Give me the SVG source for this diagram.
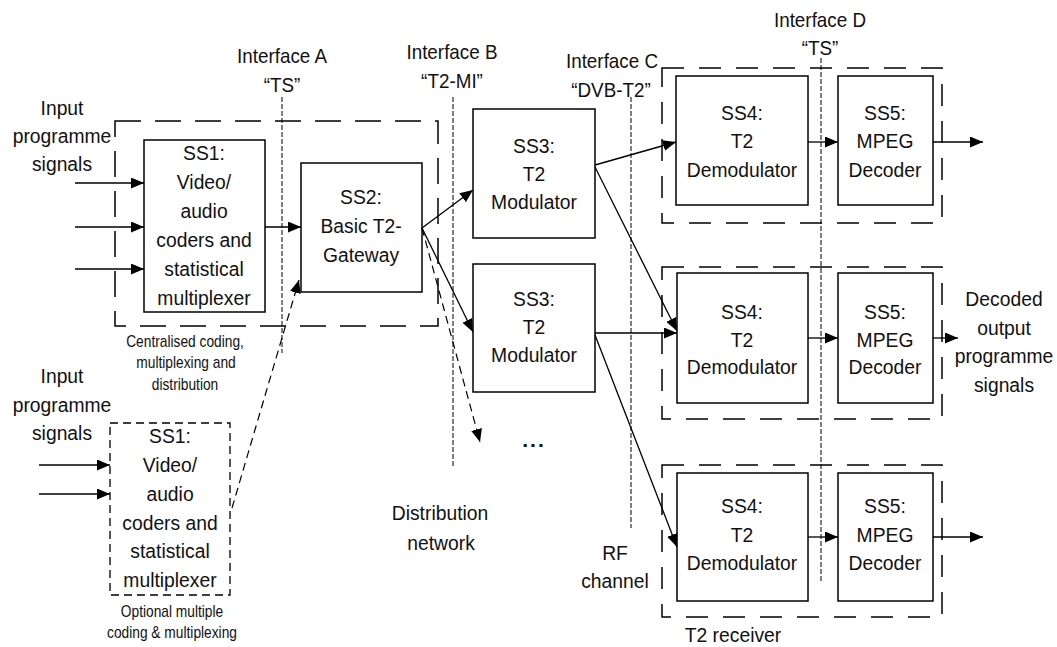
<svg xmlns="http://www.w3.org/2000/svg" width="1057" height="647" viewBox="0 0 1057 647">
<defs>
<marker id="ah" markerWidth="13" markerHeight="11" refX="13" refY="5.5" orient="auto" markerUnits="userSpaceOnUse"><path d="M0,0 L13,5.5 L0,11 z" fill="#000"/></marker>
<style>
text{font-family:"Liberation Sans",Arial,sans-serif;fill:#111;text-anchor:middle}
.t{font-size:21px}
.i{font-size:20.5px}
.s{font-size:16px}
.box{fill:#fff;stroke:#000;stroke-width:1.5}
.obox{fill:none;stroke:#000;stroke-width:1.3;stroke-dasharray:8 5}
.grp{fill:none;stroke:#000;stroke-width:1.5;stroke-dasharray:26 14}
.rgrp{fill:none;stroke:#000;stroke-width:1.5;stroke-dasharray:22 15}
.ifc{stroke:#000;stroke-width:1;stroke-dasharray:5 2;fill:none}
.c{stroke:#000;stroke-width:1.3;fill:none;marker-end:url(#ah)}
.cd{stroke:#000;stroke-width:1.2;fill:none;stroke-dasharray:8 5;marker-end:url(#ah)}
</style>
</defs>
<rect width="1057" height="647" fill="#fff"/>

<g id="groups">
<rect class="grp" x="115" y="121" width="323" height="205"/>
<rect class="rgrp" x="662" y="68" width="280" height="155"/>
<rect class="rgrp" x="662" y="267" width="280" height="152"/>
<rect class="rgrp" x="662" y="465" width="280" height="152"/>
</g>

<g id="interfaces">
<line class="ifc" x1="282" y1="97" x2="282" y2="353"/>
<line class="ifc" x1="453" y1="97" x2="453" y2="467"/>
<line class="ifc" x1="631" y1="97" x2="631" y2="528"/>
<line class="ifc" x1="821" y1="58" x2="821" y2="583"/>
<text class="i" transform="translate(282 0) scale(.92 1)" y="63">Interface A</text>
<text class="i" transform="translate(282 0) scale(.92 1)" y="92">“TS”</text>
<text class="i" transform="translate(452 0) scale(.92 1)" y="59">Interface B</text>
<text class="i" transform="translate(452 0) scale(.92 1)" y="88">“T2-MI”</text>
<text class="i" transform="translate(612 0) scale(.92 1)" y="68">Interface C</text>
<text class="i" transform="translate(611 0) scale(.92 1)" y="97">“DVB-T2”</text>
<text class="i" transform="translate(820 0) scale(.92 1)" y="27">Interface D</text>
<text class="i" transform="translate(820 0) scale(.92 1)" y="55">“TS”</text>
</g>

<g id="ss1">
<rect class="box" x="144" y="140" width="121" height="172"/>
<text class="t" transform="translate(204 0) scale(.92 1)" y="160">SS1:</text>
<text class="t" transform="translate(204 0) scale(.92 1)" y="189">Video/</text>
<text class="t" transform="translate(204 0) scale(.92 1)" y="218">audio</text>
<text class="t" transform="translate(204 0) scale(.92 1)" y="247">coders and</text>
<text class="t" transform="translate(204 0) scale(.92 1)" y="276">statistical</text>
<text class="t" transform="translate(204 0) scale(.92 1)" y="305">multiplexer</text>
</g>

<g id="ss1opt">
<rect class="obox" x="110" y="423" width="120" height="172"/>
<text class="t" transform="translate(170 0) scale(.92 1)" y="443">SS1:</text>
<text class="t" transform="translate(170 0) scale(.92 1)" y="472">Video/</text>
<text class="t" transform="translate(170 0) scale(.92 1)" y="501">audio</text>
<text class="t" transform="translate(170 0) scale(.92 1)" y="530">coders and</text>
<text class="t" transform="translate(170 0) scale(.92 1)" y="558">statistical</text>
<text class="t" transform="translate(170 0) scale(.92 1)" y="587">multiplexer</text>
</g>

<g id="ss2">
<rect class="box" x="301" y="163" width="121" height="129"/>
<text class="t" transform="translate(361 0) scale(.92 1)" y="204">SS2:</text>
<text class="t" transform="translate(361 0) scale(.92 1)" y="233">Basic T2-</text>
<text class="t" transform="translate(361 0) scale(.92 1)" y="262">Gateway</text>
</g>

<g id="ss3a">
<rect class="box" x="473" y="109" width="122" height="129"/>
<text class="t" transform="translate(534 0) scale(.92 1)" y="153">SS3:</text>
<text class="t" transform="translate(534 0) scale(.92 1)" y="181">T2</text>
<text class="t" transform="translate(534 0) scale(.92 1)" y="209">Modulator</text>
</g>

<g id="ss3b">
<rect class="box" x="473" y="264" width="122" height="128"/>
<text class="t" transform="translate(534 0) scale(.92 1)" y="306">SS3:</text>
<text class="t" transform="translate(534 0) scale(.92 1)" y="334">T2</text>
<text class="t" transform="translate(534 0) scale(.92 1)" y="362">Modulator</text>
</g>

<g id="ss4a">
<rect class="box" x="676" y="76" width="132" height="129"/>
<text class="t" transform="translate(742 0) scale(.92 1)" y="120">SS4:</text>
<text class="t" transform="translate(742 0) scale(.92 1)" y="148">T2</text>
<text class="t" transform="translate(742 0) scale(.92 1)" y="177">Demodulator</text>
</g>
<g id="ss5a">
<rect class="box" x="838" y="76" width="95" height="129"/>
<text class="t" transform="translate(885 0) scale(.92 1)" y="120">SS5:</text>
<text class="t" transform="translate(885 0) scale(.92 1)" y="148">MPEG</text>
<text class="t" transform="translate(885 0) scale(.92 1)" y="177">Decoder</text>
</g>

<g id="ss4b">
<rect class="box" x="677" y="273" width="131" height="130"/>
<text class="t" transform="translate(742 0) scale(.92 1)" y="319">SS4:</text>
<text class="t" transform="translate(742 0) scale(.92 1)" y="347">T2</text>
<text class="t" transform="translate(742 0) scale(.92 1)" y="374">Demodulator</text>
</g>
<g id="ss5b">
<rect class="box" x="838" y="273" width="95" height="130"/>
<text class="t" transform="translate(885 0) scale(.92 1)" y="319">SS5:</text>
<text class="t" transform="translate(885 0) scale(.92 1)" y="347">MPEG</text>
<text class="t" transform="translate(885 0) scale(.92 1)" y="374">Decoder</text>
</g>

<g id="ss4c">
<rect class="box" x="677" y="473" width="131" height="128"/>
<text class="t" transform="translate(742 0) scale(.92 1)" y="513">SS4:</text>
<text class="t" transform="translate(742 0) scale(.92 1)" y="542">T2</text>
<text class="t" transform="translate(742 0) scale(.92 1)" y="570">Demodulator</text>
</g>
<g id="ss5c">
<rect class="box" x="838" y="473" width="95" height="128"/>
<text class="t" transform="translate(885 0) scale(.92 1)" y="513">SS5:</text>
<text class="t" transform="translate(885 0) scale(.92 1)" y="542">MPEG</text>
<text class="t" transform="translate(885 0) scale(.92 1)" y="570">Decoder</text>
</g>

<g id="connectors">
<line class="c" x1="75" y1="183" x2="144" y2="183"/>
<line class="c" x1="75" y1="227" x2="144" y2="227"/>
<line class="c" x1="75" y1="269" x2="144" y2="269"/>
<line class="c" x1="39" y1="465" x2="110" y2="465"/>
<line class="c" x1="39" y1="494" x2="110" y2="494"/>
<line class="c" x1="265" y1="227" x2="301" y2="227"/>
<line class="cd" x1="232" y1="508" x2="299" y2="280"/>
<line class="c" x1="422" y1="228" x2="473" y2="190"/>
<line class="c" x1="422" y1="228" x2="473" y2="332"/>
<line class="cd" x1="422" y1="228" x2="480" y2="442"/>
<line class="c" x1="595" y1="165" x2="676" y2="142"/>
<line class="c" x1="595" y1="167" x2="677" y2="331"/>
<line class="c" x1="595" y1="333" x2="677" y2="333"/>
<line class="c" x1="595" y1="335" x2="677" y2="547"/>
<line class="c" x1="808" y1="142" x2="838" y2="142"/>
<line class="c" x1="933" y1="142" x2="983" y2="142"/>
<line class="c" x1="808" y1="338" x2="838" y2="338"/>
<line class="c" x1="933" y1="338" x2="958" y2="338"/>
<line class="c" x1="808" y1="537" x2="838" y2="537"/>
<line class="c" x1="933" y1="537" x2="983" y2="537"/>
</g>

<g id="labels">
<text class="t" transform="translate(62 0) scale(.92 1)" y="115">Input</text>
<text class="t" transform="translate(62 0) scale(.92 1)" y="143">programme</text>
<text class="t" transform="translate(62 0) scale(.92 1)" y="171">signals</text>
<text class="t" transform="translate(62 0) scale(.92 1)" y="383">Input</text>
<text class="t" transform="translate(62 0) scale(.92 1)" y="412">programme</text>
<text class="t" transform="translate(62 0) scale(.92 1)" y="440">signals</text>
<text class="s" transform="translate(185 0) scale(.86 1)" y="347">Centralised coding,</text>
<text class="s" transform="translate(186 0) scale(.86 1)" y="368">multiplexing and</text>
<text class="s" transform="translate(185 0) scale(.86 1)" y="390">distribution</text>
<text class="s" transform="translate(172 0) scale(.86 1)" y="617">Optional multiple</text>
<text class="s" transform="translate(172 0) scale(.86 1)" y="638">coding &amp; multiplexing</text>
<text class="t" transform="translate(440 0) scale(.92 1)" y="520">Distribution</text>
<text class="t" transform="translate(441 0) scale(.92 1)" y="550">network</text>
<text class="t" transform="translate(534 0)" y="447" style="font-weight:bold;letter-spacing:2px">...</text>
<text class="t" transform="translate(615 0) scale(.92 1)" y="560">RF</text>
<text class="t" transform="translate(615 0) scale(.92 1)" y="588">channel</text>
<text class="t" transform="translate(733 0) scale(.92 1)" y="642">T2 receiver</text>
<text class="t" transform="translate(1004 0) scale(.92 1)" y="306">Decoded</text>
<text class="t" transform="translate(1004 0) scale(.92 1)" y="335">output</text>
<text class="t" transform="translate(1004 0) scale(.92 1)" y="363">programme</text>
<text class="t" transform="translate(1004 0) scale(.92 1)" y="392">signals</text>
</g>
</svg>
